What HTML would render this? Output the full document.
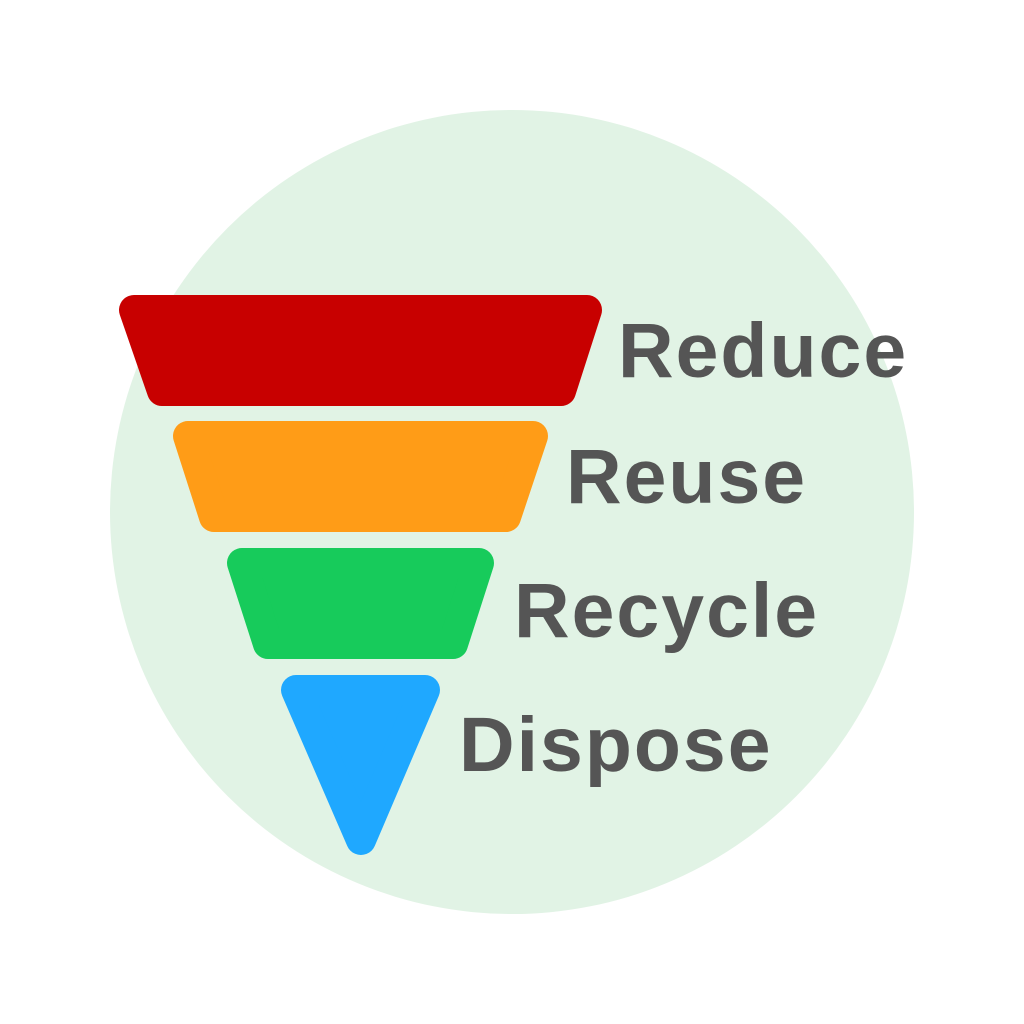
<!DOCTYPE html>
<html><head><meta charset="utf-8"><style>html,body{margin:0;padding:0;background:#fff}svg{display:block}</style></head>
<body>
<svg width="1024" height="1024" viewBox="0 0 1024 1024" xmlns="http://www.w3.org/2000/svg">
<rect width="1024" height="1024" fill="#fff"/>
<circle cx="512" cy="512" r="402" fill="#e1f3e5"/>
<g stroke-linejoin="round" stroke-width="30">
<polygon points="134,310 587,310 561,391 162,391" fill="#c80000" stroke="#c80000"/>
<polygon points="188,436 533,436 506,517 214,517" fill="#ff9c17" stroke="#ff9c17"/>
<polygon points="242,563 479,563 453,644 268,644" fill="#17cb5b" stroke="#17cb5b"/>
<polygon points="296,690 425,690 361,840" fill="#1fa8ff" stroke="#1fa8ff"/>
</g>
<g font-family="Liberation Sans, Arial, sans-serif" font-weight="bold" font-size="77" fill="#555555" letter-spacing="2">
<text x="618" y="377">Reduce</text>
<text x="566" y="503">Reuse</text>
<text x="514" y="637">Recycle</text>
<text x="459" y="771">Dispose</text>
</g>
</svg>
</body></html>
